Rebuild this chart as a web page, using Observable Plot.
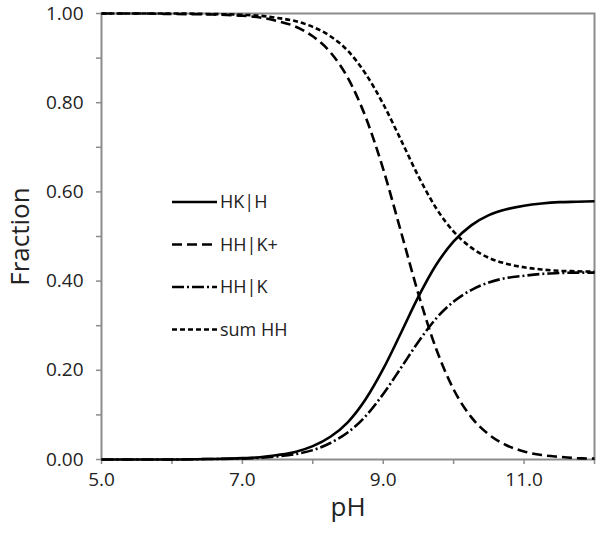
<!DOCTYPE html>
<html>
<head>
<meta charset="utf-8">
<script src="https://cdn.jsdelivr.net/npm/d3@7"></script>
<script src="https://cdn.jsdelivr.net/npm/@observablehq/plot@0.6"></script>
<style>
  html, body { margin: 0; padding: 0; background: #fff; }
  #chart { width: 600px; height: 534px; }
</style>
</head>
<body>
<div id="chart"></div>
<script>
// pH values read along the x axis
const pH = [5.0, 5.5, 6.0, 6.5, 7.0, 7.25, 7.5, 7.75, 8.0, 8.25, 8.5, 8.75, 9.0, 9.25, 9.5, 9.75, 10.0, 10.25, 10.5, 10.75, 11.0, 11.25, 11.5, 11.75, 12.0];
// Series values (fraction)
const HK_H   = [0.000, 0.000, 0.000, 0.001, 0.003, 0.005, 0.010, 0.017, 0.030, 0.051, 0.084, 0.135, 0.203, 0.283, 0.365, 0.436, 0.489, 0.525, 0.548, 0.561, 0.569, 0.574, 0.577, 0.578, 0.579];
const HH_Kp  = [1.000, 1.000, 0.999, 0.998, 0.995, 0.991, 0.983, 0.971, 0.949, 0.913, 0.855, 0.768, 0.651, 0.512, 0.371, 0.249, 0.157, 0.095, 0.056, 0.032, 0.018, 0.010, 0.006, 0.003, 0.002];
const HH_K   = [0.000, 0.000, 0.000, 0.001, 0.002, 0.004, 0.007, 0.012, 0.021, 0.037, 0.061, 0.097, 0.147, 0.205, 0.264, 0.316, 0.354, 0.380, 0.397, 0.407, 0.412, 0.416, 0.418, 0.419, 0.419];
const sumHH  = [1.000, 1.000, 1.000, 0.999, 0.997, 0.995, 0.990, 0.983, 0.970, 0.949, 0.916, 0.865, 0.797, 0.717, 0.635, 0.564, 0.511, 0.475, 0.452, 0.439, 0.431, 0.426, 0.423, 0.422, 0.421];

const seriesNames = ["HK|H", "HH|K+", "HH|K", "sum HH"];
const xTicks = [5, 6, 7, 8, 9, 10, 11, 12];
const xTickLabels = [5, 7, 9, 11];
const yTicks = [0, 0.1, 0.2, 0.3, 0.4, 0.5, 0.6, 0.7, 0.8, 0.9, 1.0];
const yTickLabels = [0, 0.2, 0.4, 0.6, 0.8, 1.0];
const xLabel = "pH";
const yLabel = "Fraction";

const dashes = [null, "10,5", "12,3,2,3", "5,3"];

const rows = pH.map((x, i) => ({x, hk: HK_H[i], hhkp: HH_Kp[i], hhk: HH_K[i], sum: sumHH[i]}));
const keys = ["hk", "hhkp", "hhk", "sum"];

const FONT = "'Open Sans', 'DejaVu Sans', sans-serif";
const has = (arr, d) => arr.some(t => Math.abs(t - d) < 1e-9);
const LW = 2.6;

const lineMarks = keys.map((k, i) => Plot.line(rows, {
  x: "x", y: k, stroke: "#000", strokeWidth: LW,
  strokeDasharray: dashes[i] || undefined,
  curve: "monotone-x", strokeLinecap: "butt"
}));

const chart = Plot.plot({
  width: 600,
  height: 534,
  marginLeft: 101,
  marginRight: 6,
  marginTop: 13,
  marginBottom: 75,
  style: {fontFamily: FONT, background: "#fff", color: "#222"},
  x: {domain: [5, 12]},
  y: {domain: [0, 1]},
  marks: [
    Plot.frame({stroke: "#8c8c8c", strokeWidth: 2}),
    Plot.axisX({
      ticks: xTicks,
      tickFormat: d => has(xTickLabels, d) ? d.toFixed(1) : "",
      tickSize: 5, tickPadding: 8, stroke: "#8c8c8c", strokeWidth: 1.5,
      fontSize: 19, fill: "#222",
      label: xLabel, labelAnchor: "center", labelArrow: "none", labelOffset: 56
    }),
    Plot.axisY({
      ticks: yTicks,
      tickFormat: d => has(yTickLabels, d) ? d.toFixed(2) : "",
      tickSize: 5, tickPadding: 13, stroke: "#8c8c8c", strokeWidth: 1.5,
      fontSize: 19, fill: "#222",
      label: yLabel, labelAnchor: "center", labelArrow: "none", labelOffset: 91
    }),
    ...lineMarks
  ]
});

document.getElementById("chart").appendChild(chart);

// enlarge axis titles
const svg = d3.select(chart);
svg.selectAll("[aria-label='x-axis label'] text, [aria-label='y-axis label'] text")
  .style("font-size", "26px").attr("fill", "#222");

// Legend inside the plot area
const leg = svg.append("g").attr("class", "legend").attr("text-anchor", "start");
seriesNames.forEach((name, i) => {
  const y = 202 + i * 42.5;
  leg.append("line")
    .attr("x1", 172).attr("x2", 217).attr("y1", y).attr("y2", y)
    .attr("stroke", "#000").attr("stroke-width", LW)
    .attr("stroke-dasharray", dashes[i] || null);
  leg.append("text")
    .attr("x", 220).attr("y", y).attr("dy", "0.35em")
    .attr("text-anchor", "start")
    .attr("font-family", FONT).attr("font-size", 18).attr("fill", "#222")
    .text(name);
});
</script>
</body>
</html>
